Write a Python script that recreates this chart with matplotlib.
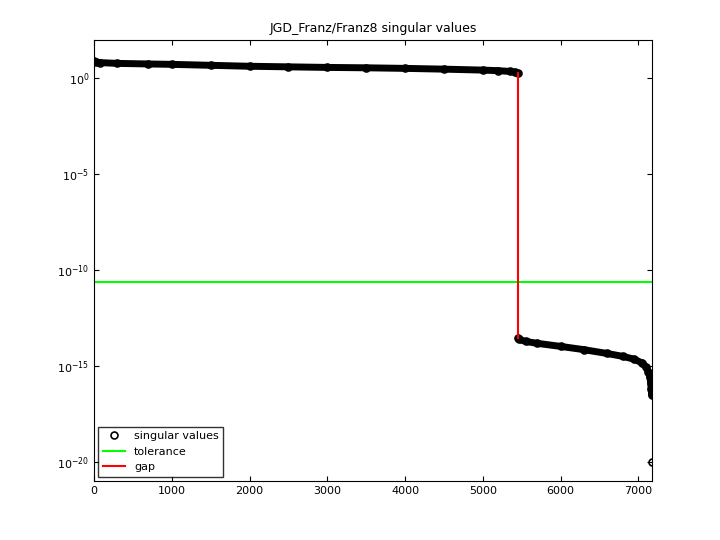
import matplotlib
matplotlib.use("Agg")
import matplotlib.pyplot as plt
import numpy as np

idx_hi = [1, 20, 80, 300, 700, 1000, 1500, 2000, 2500, 3000, 3500, 4000, 4500, 5000, 5200, 5350, 5420, 5454]
log_hi = [0.92, 0.86, 0.82, 0.78, 0.75, 0.73, 0.68, 0.63, 0.60, 0.57, 0.55, 0.52, 0.48, 0.43, 0.40, 0.36, 0.32, 0.26]
idx_lo = [5455, 5470, 5550, 5700, 6000, 6300, 6600, 6800, 6950, 7050, 7100, 7130, 7150, 7160, 7165, 7170, 7173, 7175, 7176]
log_lo = [-13.55, -13.62, -13.72, -13.82, -13.98, -14.15, -14.35, -14.5, -14.65, -14.85, -15.05, -15.3, -15.6, -15.9, -16.2, -16.4, -16.45, -16.5, -20.0]
tolerance = 10**-10.6
gap_x = 5455

fig = plt.figure(figsize=(7.2, 5.4), dpi=100)
ax = fig.add_axes([94/720, 59/540, 558/720, 441/540])
x = idx_hi + idx_lo
y = [10**v for v in log_hi + log_lo]
ax.semilogy(idx_hi, [10**v for v in log_hi], color='k', lw=5, solid_capstyle='round')
ax.semilogy(idx_lo[:-2], [10**v for v in log_lo[:-2]], color='k', lw=5, solid_capstyle='round')
ax.semilogy(x, y, 'o', mfc='none', mec='k', ms=5, mew=1.2, label='singular values')
ax.axhline(tolerance, color='#00ff00', lw=1.5, label='tolerance')
ax.plot([gap_x, gap_x], [10**log_hi[-1], 10**log_lo[0]], color='r', lw=1.5, label='gap')
ax.set_xlim(0, 7176)
ax.set_ylim(1e-21, 1e2)
ax.set_yticks([1e0, 1e-5, 1e-10, 1e-15, 1e-20])
ax.minorticks_off()
ax.set_xticks(range(0, 8000, 1000))
ax.tick_params(direction='in', labelsize=8, top=True, right=True)
ax.set_title('JGD_Franz/Franz8 singular values', fontsize=9)
ax.legend(loc='lower left', fontsize=8, frameon=True, fancybox=False, edgecolor='k', borderaxespad=0.4)
fig.savefig('out.png')
